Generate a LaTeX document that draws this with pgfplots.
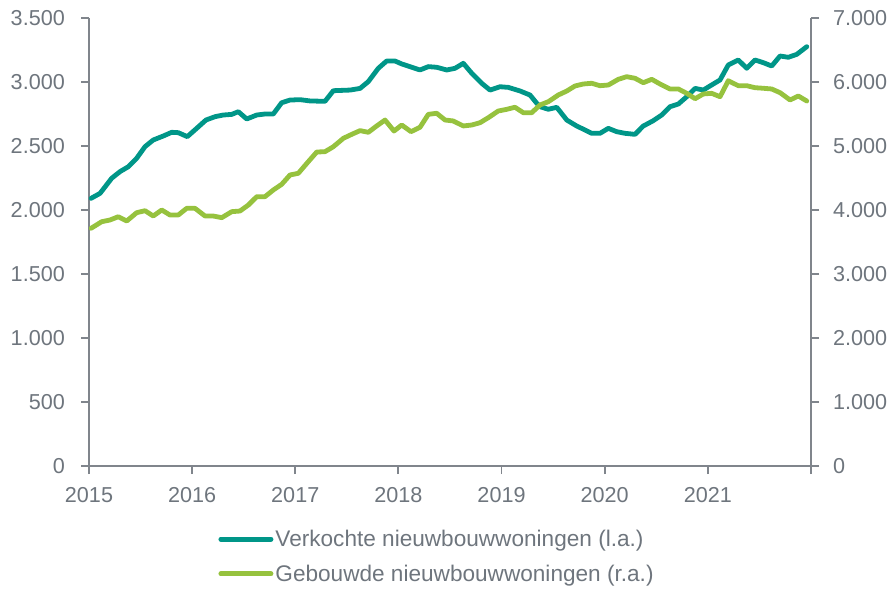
\documentclass[border=0pt]{standalone}
\usepackage{pgfplots}
\pgfplotsset{compat=1.18}
\usepackage{pgfplotstable}
\usepackage{fontspec}
\setmainfont{Liberation Sans}
\definecolor{tealc}{RGB}{0,150,136}
\definecolor{greenc}{RGB}{150,194,62}
\definecolor{txtgray}{RGB}{110,117,125}
\definecolor{axgray}{RGB}{128,133,140}

\pgfplotstableread{
x y
2015.020 2091
2015.107 2130
2015.220 2248
2015.301 2300
2015.381 2338
2015.462 2404
2015.543 2495
2015.623 2547
2015.720 2578
2015.802 2607
2015.866 2604
2015.953 2573
2016.044 2638
2016.134 2703
2016.222 2729
2016.302 2742
2016.384 2747
2016.448 2768
2016.529 2711
2016.626 2742
2016.706 2750
2016.787 2750
2016.868 2838
2016.949 2859
2017.046 2862
2017.143 2852
2017.288 2849
2017.369 2932
2017.531 2937
2017.628 2950
2017.708 3003
2017.805 3107
2017.886 3164
2017.967 3164
2018.032 3141
2018.112 3120
2018.209 3094
2018.290 3120
2018.371 3115
2018.468 3094
2018.549 3107
2018.629 3146
2018.711 3068
2018.807 2990
2018.888 2937
2018.985 2963
2019.065 2958
2019.179 2930
2019.276 2898
2019.341 2834
2019.373 2807
2019.453 2787
2019.535 2802
2019.632 2703
2019.729 2656
2019.809 2625
2019.874 2599
2019.954 2599
2020.035 2638
2020.116 2612
2020.197 2599
2020.294 2591
2020.374 2656
2020.471 2698
2020.553 2742
2020.633 2807
2020.714 2828
2020.795 2885
2020.876 2950
2020.956 2937
2021.037 2977
2021.118 3016
2021.198 3133
2021.295 3172
2021.377 3107
2021.457 3172
2021.538 3151
2021.619 3125
2021.700 3203
2021.780 3193
2021.862 3216
2021.959 3276
}\verkocht

\pgfplotstableread{
x y
2015.020 3714
2015.123 3817
2015.204 3844
2015.284 3895
2015.366 3828
2015.462 3958
2015.543 3989
2015.623 3906
2015.705 4000
2015.785 3922
2015.866 3922
2015.947 4026
2016.028 4026
2016.125 3906
2016.205 3906
2016.287 3880
2016.384 3974
2016.464 3984
2016.545 4078
2016.626 4208
2016.706 4208
2016.787 4313
2016.868 4401
2016.949 4547
2017.029 4573
2017.126 4755
2017.208 4906
2017.288 4911
2017.369 4989
2017.466 5120
2017.547 5182
2017.628 5240
2017.708 5214
2017.789 5313
2017.870 5406
2017.957 5234
2018.032 5328
2018.122 5224
2018.209 5292
2018.290 5495
2018.371 5511
2018.452 5406
2018.532 5391
2018.629 5313
2018.711 5328
2018.791 5364
2018.871 5442
2018.968 5547
2019.050 5573
2019.130 5605
2019.211 5520
2019.292 5520
2019.373 5641
2019.453 5692
2019.550 5797
2019.632 5859
2019.712 5938
2019.793 5969
2019.874 5980
2019.954 5942
2020.035 5953
2020.132 6042
2020.213 6083
2020.294 6058
2020.374 5989
2020.456 6042
2020.536 5969
2020.633 5891
2020.714 5891
2020.795 5823
2020.876 5739
2020.956 5813
2021.037 5823
2021.118 5770
2021.198 6020
2021.295 5942
2021.377 5942
2021.457 5911
2021.538 5902
2021.619 5891
2021.700 5833
2021.797 5719
2021.877 5781
2021.959 5703
}\gebouwd

\pgfplotsset{
  common/.style={
    scale only axis, width=722bp, height=448bp,
    at={(0,0)}, anchor=south west,
    xmin=2015, xmax=2022,
    axis line style={axgray, line width=1.8bp, -},
    tick style={axgray, line width=1.8bp},
    tick align=outside, major tick length=8bp,
    ticklabel style={font=\fontsize{21.6bp}{25bp}\selectfont, text=txtgray, inner sep=2bp},
    yticklabel style={inner sep=6bp},
    xticklabel style={inner sep=2bp, yshift=-11bp},
    /pgf/number format/assume math mode=true,
    /pgf/number format/1000 sep={.},
    scaled y ticks=false,
  }
}

\begin{document}
\begin{tikzpicture}
\path[use as bounding box] (-89bp,-124bp) rectangle (802bp,466bp);
\begin{axis}[common,
  axis x line*=bottom, axis y line*=left,
  ymin=0, ymax=3500, ytick={0,500,...,3500},
  yticklabel style={xshift=-10bp},
  xtick={2015,...,2022},
  xticklabels={2015,2016,2017,2018,2019,2020,2021,},
]
\addplot[tealc, line width=4.8bp, line join=round, line cap=round] table[x=x,y=y] {\verkocht};
\end{axis}
\begin{axis}[common,
  axis x line=none, axis y line*=right,
  ymin=0, ymax=7000, ytick={0,1000,...,7000},
  yticklabel style={xshift=8bp},
  legend style={at={(axis description cs:0.179,-0.202)}, anchor=west,
    draw=none, fill=none, inner sep=0pt,
    font=\fontsize{22.6bp}{26bp}\selectfont, text=txtgray,
    row sep=13bp, nodes={inner sep=2bp}},
  legend cell align=left,
  legend image code/.code={\draw[line width=5bp, line cap=round] (2.5bp,0bp) -- (52.5bp,0bp);},
]
\addlegendimage{tealc}
\addlegendentry{Verkochte nieuwbouwwoningen (l.a.)}
\addplot[greenc, line width=4.8bp, line join=round, line cap=round] table[x=x,y=y] {\gebouwd};
\addlegendentry{Gebouwde nieuwbouwwoningen (r.a.)}
\end{axis}
\end{tikzpicture}
\end{document}
